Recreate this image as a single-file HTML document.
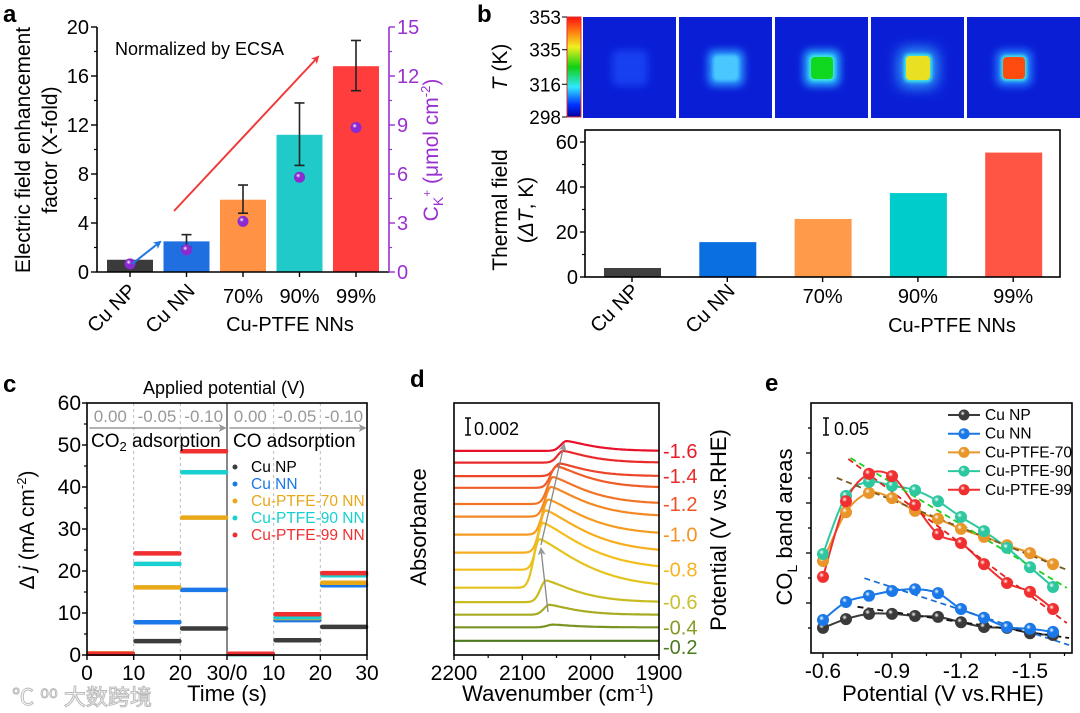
<!DOCTYPE html>
<html><head><meta charset="utf-8">
<style>
html,body{margin:0;padding:0;background:#fff;}
svg{display:block;font-family:"Liberation Sans","Noto Sans CJK SC",sans-serif;}
</style></head>
<body>
<svg id="fig" width="1080" height="713" viewBox="0 0 1080 713" xmlns="http://www.w3.org/2000/svg">
<defs>
<linearGradient id="cbar" x1="0" y1="1" x2="0" y2="0">
<stop offset="0" stop-color="#0000a0"/><stop offset="0.12" stop-color="#0030ff"/><stop offset="0.3" stop-color="#30e8ff"/>
<stop offset="0.5" stop-color="#10d010"/><stop offset="0.7" stop-color="#f0f020"/><stop offset="0.85" stop-color="#ff8010"/><stop offset="1" stop-color="#ff1010"/>
</linearGradient>
<filter id="blur4" x="-1" y="-1" width="3" height="3"><feGaussianBlur stdDeviation="4"/></filter>
<filter id="blur7" x="-1" y="-1" width="3" height="3"><feGaussianBlur stdDeviation="7"/></filter>
<filter id="blur2"><feGaussianBlur stdDeviation="1.5"/></filter>
<marker id="ahRed" markerWidth="8" markerHeight="8" refX="6" refY="4" orient="auto" markerUnits="userSpaceOnUse"><path d="M0,0 L8,4 L0,8 L2,4 Z" fill="#f03a3a"/></marker>
<marker id="ahBlue" markerWidth="8" markerHeight="8" refX="6" refY="4" orient="auto" markerUnits="userSpaceOnUse"><path d="M0,0 L8,4 L0,8 L2,4 Z" fill="#1f78e0"/></marker>
<marker id="ahGray" markerWidth="8" markerHeight="8" refX="6" refY="4" orient="auto" markerUnits="userSpaceOnUse"><path d="M0,0 L8,4 L0,8 L2,4 Z" fill="#999"/></marker>
</defs>
</svg>
<script>
// ---------- DATA ----------
// panel a
const catsA = ['Cu NP','Cu NN','70%','90%','99%'];
const enhA = [1.0, 2.5, 5.9, 11.2, 16.8];
const enhErrA = [0, 0.5, 1.15, 2.55, 2.05];
const ckA = [0.5, 1.35, 3.1, 5.8, 8.85];
const ckErrA = [0.15, 0.2, 0.2, 0.25, 0.3];
const ticksA = [0, 4, 8, 12, 16, 20];
const ticksA2 = [0, 3, 6, 9, 12, 15];
// panel b
const catsB = ['Cu NP','Cu NN','70%','90%','99%'];
const dTB = [4.0, 15.5, 25.8, 37.3, 55.3];
const ticksB = [0, 20, 40, 60];
const cbarTicks = [353, 335, 316, 298];
// panel c
const seriesC = ['Cu NP','Cu NN','Cu-PTFE-70 NN','Cu-PTFE-90 NN','Cu-PTFE-99 NN'];
const co2Lv = [[0.3,3.3,6.3],[0.3,7.8,15.5],[0.4,16.1,32.7],[0.3,21.7,43.5],[0.3,24.2,48.5]];
const coLv  = [[0.2,3.5,6.7],[0.2,8.3,16.6],[0.2,8.8,17.2],[0.2,9.0,19.0],[0.3,9.7,19.5]];
const ticksC = [0,10,20,30,40,50,60];
const potLabelsC = ['0.00','-0.05','-0.10'];
// panel d
const potD = [-1.6,-1.5,-1.4,-1.3,-1.2,-1.1,-1.0,-0.9,-0.8,-0.7,-0.6,-0.5,-0.4,-0.2];
const offsetD = [21.9,20.6,19.1,17.8,16.0,14.6,12.6,10.6,8.7,6.7,5.1,3.7,2.3,0.8]; // x0.001 abs
const peakD = [1.1,1.3,1.4,2.4,3.0,3.3,3.9,4.7,5.2,5.4,2.4,1.1,0.3,0.0];       // x0.001 abs
const peakPosD = [2035,2040,2045,2050,2055,2058,2062,2066,2070,2075,2065,2060,2055,2055];
const ticksD = [2200,2100,2000,1900];
// panel e
const potE = [-0.6,-0.7,-0.8,-0.9,-1.0,-1.1,-1.2,-1.3,-1.4,-1.5,-1.6];
const seriesE = ['Cu NP','Cu NN','Cu-PTFE-70','Cu-PTFE-90','Cu-PTFE-99'];
const areaNP = [0.057,0.077,0.089,0.089,0.084,0.082,0.070,0.059,0.057,0.045,0.041];
const areaNN = [0.075,0.116,0.130,0.141,0.145,0.136,0.100,0.080,0.059,0.055,0.048];
const area70 = [0.209,0.320,0.364,0.352,0.323,0.305,0.282,0.264,0.245,0.227,0.202];
const area90 = [0.225,0.357,0.389,0.380,0.370,0.345,0.309,0.277,0.239,0.195,0.150];
const area99 = [0.173,0.345,0.407,0.402,0.336,0.270,0.250,0.202,0.159,0.139,0.100];
const fitX0 = [-0.75,-0.78,-0.66,-0.72,-0.71];
const fitX1 = [-1.67,-1.67,-1.66,-1.66,-1.66];
const fitY0 = [0.105,0.170,0.398,0.443,0.441];
const fitY1 = [0.034,0.018,0.189,0.148,0.068];
const ticksEX = [-0.6,-0.9,-1.2,-1.5];

// ---------- HELPERS ----------
const NS='http://www.w3.org/2000/svg';
const svg=document.getElementById('fig');
const defs=svg.querySelector('defs');
function el(tag,attrs,name,parent){
  const e=document.createElementNS(NS,tag);
  for(const k in attrs) e.setAttribute(k,attrs[k]);
  
  
  (parent||svg).appendChild(e);
  return e;
}
function txt(x,y,s,attrs,name,parent){
  const t=el('text',Object.assign({x:x,y:y},attrs||{}),name,parent);
  t.textContent=s; return t;
}
function line(x1,y1,x2,y2,stroke,w,name,extra){
  return el('line',Object.assign({x1,y1,x2,y2,stroke,'stroke-width':w},extra||{}),name);
}
function grad(id,color){
  const g=document.createElementNS(NS,'radialGradient');
  g.setAttribute('id',id);g.setAttribute('cx','0.38');g.setAttribute('cy','0.35');g.setAttribute('r','0.7');
  g.innerHTML='<stop offset="0" stop-color="#ffffff"/><stop offset="0.3" stop-color="'+color+'"/><stop offset="1" stop-color="'+color+'"/>';
  defs.appendChild(g);
}
function smooth(pts){
  let d='M'+pts[0][0]+','+pts[0][1];
  for(let i=0;i<pts.length-1;i++){
    const p0=pts[Math.max(0,i-1)],p1=pts[i],p2=pts[i+1],p3=pts[Math.min(pts.length-1,i+2)];
    const c1=[p1[0]+(p2[0]-p0[0])/6,p1[1]+(p2[1]-p0[1])/6];
    const c2=[p2[0]-(p3[0]-p1[0])/6,p2[1]-(p3[1]-p1[1])/6];
    d+=' C'+c1[0].toFixed(1)+','+c1[1].toFixed(1)+' '+c2[0].toFixed(1)+','+c2[1].toFixed(1)+' '+p2[0].toFixed(1)+','+p2[1].toFixed(1);
  }
  return d;
}
const FT=20, FA=21;

// ================= PANEL A =================
(function(){
  const L=97,R=389,T=27,B=272;
  const yA=v=>B-v/20*(B-T), yA2=v=>B-v/15*(B-T), xA=i=>130+i*56.5;
  const colors=['#3b3b3b','#1f6fe0','#ff9244','#1fcac8','#ff3d3d'];
  txt(3,22,'a',{'font-size':24,'font-weight':'bold'},'panel-a-label');
  catsA.forEach((c,i)=>{
    const h=B-yA(enhA[i]);
    el('rect',{x:xA(i)-23,y:yA(enhA[i]),width:46,height:h,fill:colors[i]},'bar-a-'+i);
    if(enhErrA[i]>0){
      const t=yA(enhA[i]+enhErrA[i]+0.05),b=yA(enhA[i]-enhErrA[i]+0.05);
      line(xA(i),t,xA(i),b,'#222',1.6,'errorbar-a-'+i);
      line(xA(i)-5,t,xA(i)+5,t,'#222',1.6,'errorcap-a-top-'+i);
      line(xA(i)-5,b,xA(i)+5,b,'#222',1.6,'errorcap-a-bot-'+i);
    }
  });
  grad('gPurple','#8a2ad0');
  catsA.forEach((c,i)=>{
    const y=yA2(ckA[i]);
    line(xA(i),yA2(ckA[i]+ckErrA[i]),xA(i),yA2(ckA[i]-ckErrA[i]),'#7a20c0',1.5,'ck-error-'+i);
    el('circle',{cx:xA(i),cy:y,r:5.5,fill:'url(#gPurple)'},'ck-point-'+i);
  });
  line(L,T,L,B,'#000',1.6,'y-axis-a-left');
  line(L,B,R,B,'#000',1.6,'x-axis-a');
  line(R,T,R,B,'#9a30d0',1.6,'y-axis-a-right');
  ticksA.forEach(v=>{
    line(L-6,yA(v),L,yA(v),'#000',1.4,'ytick-a');
    txt(L-8,yA(v)+7,String(v),{'font-size':FT,'text-anchor':'end'},'ytick-label-a');
    if(v<20) line(L-3,yA(v+2),L,yA(v+2),'#000',1.2,'yminor-a');
  });
  ticksA2.forEach(v=>{
    line(R,yA2(v),R+6,yA2(v),'#9a30d0',1.4,'ytick-a-right');
    txt(R+8,yA2(v)+7,String(v),{'font-size':FT,fill:'#9a30d0'},'ytick-label-a-right');
    if(v<15) line(R,yA2(v+1.5),R+3,yA2(v+1.5),'#9a30d0',1.2,'yminor-a-right');
  });
  catsA.forEach((c,i)=>line(xA(i),B,xA(i),B+5,'#000',1.4,'xtick-a'));
  txt(137,292,'Cu NP',{'font-size':FT,'text-anchor':'end',transform:'rotate(-45 137 292)'},'xlabel-a-cu-np');
  txt(196,292,'Cu NN',{'font-size':FT,'text-anchor':'end',transform:'rotate(-45 196 292)'},'xlabel-a-cu-nn');
  [2,3,4].forEach(i=>txt(xA(i),303,catsA[i],{'font-size':FT,'text-anchor':'middle'},'xlabel-a-'+catsA[i]));
  txt(290,331,'Cu-PTFE NNs',{'font-size':FT,'text-anchor':'middle'},'x-group-label-a');
  txt(115,55,'Normalized by ECSA',{'font-size':18},'annotation-ecsa');
  line(174,211,318,57,'#f03a3a',2,'trend-arrow-red',{'marker-end':'url(#ahRed)'});
  line(132,264,160,242,'#1f78e0',2,'trend-arrow-blue',{'marker-end':'url(#ahBlue)'});
  txt(30,150,'Electric field enhancement',{'font-size':FA,'text-anchor':'middle',transform:'rotate(-90 30 150)'},'y-axis-title-a-1');
  txt(57,150,'factor (X-fold)',{'font-size':FA,'text-anchor':'middle',transform:'rotate(-90 57 150)'},'y-axis-title-a-2');
  const t=el('text',{x:438,y:150,'font-size':FA,fill:'#9a30d0','text-anchor':'middle',transform:'rotate(-90 438 150)'},'y-axis-title-a-right');
  t.innerHTML='C<tspan font-size="14" dy="5">K</tspan><tspan font-size="12" dy="-12">+</tspan><tspan dy="7"> (μmol cm</tspan><tspan font-size="13" dy="-8">-2</tspan><tspan dy="8">)</tspan>';
})();

// ================= PANEL B =================
(function(){
  txt(477,22,'b',{'font-size':24,'font-weight':'bold'},'panel-b-label');
  el('rect',{x:567,y:17,width:14,height:100,fill:'url(#cbar)',stroke:'#e03030','stroke-width':1},'colorbar');
  const cy=v=>117-(v-298)/(353-298)*100;
  cbarTicks.forEach(v=>{
    line(562,cy(v),567,cy(v),'#000',1,'colorbar-tick');
    txt(561,cy(v)+7,String(v),{'font-size':19,'text-anchor':'end'},'colorbar-label');
  });
  const tl=el('text',{x:507,y:67,'font-size':FA,'text-anchor':'middle',transform:'rotate(-90 507 67)'},'colorbar-title');
  tl.innerHTML='<tspan font-style="italic">T</tspan> (K)';
  const px=[583,679,775,871,967];
  const core=[null,'#48c8ff','#10d820','#e8e020','#ff4a10'];
  const glow=['#1440f0','#2a98ff','#28b0ff','#30a8ff','#2080ff'];
  const sz=[26,26,26,28,26];
  px.forEach((x,i)=>{
    el('rect',{x:x,y:17,width:i<4?93:113,height:101,fill:'#0a1ed6'},'thermal-image-'+i);
    const cx=x+47,cyy=68;
    el('rect',{x:cx-sz[i]/2-5,y:cyy-sz[i]/2-5,width:sz[i]+10,height:sz[i]+10,rx:7,fill:glow[i],filter:i===3?'url(#blur7)':'url(#blur4)'},'thermal-glow-'+i);
    if(core[i]){
      el('rect',{x:cx-sz[i]/2,y:cyy-sz[i]/2,width:sz[i],height:sz[i],rx:5,fill:i>=2?'#40e8e0':core[i],filter:'url(#blur2)'},'thermal-rim-'+i);
      el('rect',{x:cx-sz[i]/2+2,y:cyy-sz[i]/2+2,width:sz[i]-4,height:sz[i]-4,rx:4,fill:core[i]},'thermal-core-'+i);
    }
  });
  const L=585,R=1060,T=130,B=277;
  const yB=v=>B-v/60*135, xB=i=>632+i*95.3;
  const colors=['#404040','#0a6fe0','#ff9a4a','#00cccc','#ff5544'];
  catsB.forEach((c,i)=>el('rect',{x:xB(i)-28,y:yB(dTB[i]),width:57,height:B-yB(dTB[i]),fill:colors[i]},'bar-b-'+i));
  el('rect',{x:L,y:T,width:R-L,height:B-T,fill:'none',stroke:'#000','stroke-width':1.6},'plot-frame-b');
  ticksB.forEach(v=>{
    line(L-5,yB(v),L,yB(v),'#000',1.4,'ytick-b');
    txt(L-7,yB(v)+7,String(v),{'font-size':FT,'text-anchor':'end'},'ytick-label-b');
    if(v<60) line(L-3,yB(v+10),L,yB(v+10),'#000',1.2,'yminor-b');
  });
  catsB.forEach((c,i)=>line(xB(i),B,xB(i),B+5,'#000',1.4,'xtick-b'));
  txt(640,292,'Cu NP',{'font-size':FT,'text-anchor':'end',transform:'rotate(-45 640 292)'},'xlabel-b-cu-np');
  txt(736,292,'Cu NN',{'font-size':FT,'text-anchor':'end',transform:'rotate(-45 736 292)'},'xlabel-b-cu-nn');
  [2,3,4].forEach(i=>txt(xB(i),303,catsB[i],{'font-size':FT,'text-anchor':'middle'},'xlabel-b-'+catsB[i]));
  txt(952,332,'Cu-PTFE NNs',{'font-size':FT,'text-anchor':'middle'},'x-group-label-b');
  txt(507,210,'Thermal field',{'font-size':FA,'text-anchor':'middle',transform:'rotate(-90 507 210)'},'y-axis-title-b-1');
  const t2=el('text',{x:533,y:210,'font-size':FA,'text-anchor':'middle',transform:'rotate(-90 533 210)'},'y-axis-title-b-2');
  t2.innerHTML='(<tspan font-style="italic">ΔT</tspan>, K)';
})();

// ================= PANEL C =================
(function(){
  const L=87,R=367,T=403,B=655;
  const yC=v=>B-v/60*(B-T), xC=(t,h)=>L+(h*30+t)*(R-L)/60;
  const colors=['#3c3c3c','#1a78e8','#e8a818','#18d0d0','#f03030'];
  txt(3,392,'c',{'font-size':24,'font-weight':'bold'},'panel-c-label');
  [10,20,40,50].forEach(t=>line(xC(t,0),T,xC(t,0),B,'#bbb',1,'divider-dashed',{'stroke-dasharray':'3 3'}));
  line(xC(30,0),T,xC(30,0),B,'#888',2,'divider-halves');
  [co2Lv,coLv].forEach((lv,h)=>{
    seriesC.forEach((s,k)=>{
      lv[k].forEach((v,j)=>{
        el('line',{x1:xC(j*10+0.4,h),y1:yC(v),x2:xC(j*10+9.8,h),y2:yC(v),stroke:colors[k],'stroke-width':4.5,'stroke-linecap':'round'},'step-'+(h?'co':'co2')+'-'+k+'-'+j);
      });
    });
  });
  el('rect',{x:L,y:T,width:R-L,height:B-T,fill:'none',stroke:'#000','stroke-width':1.6},'plot-frame-c');
  ticksC.forEach(v=>{
    line(L-5,yC(v),L,yC(v),'#000',1.4,'ytick-c');
    txt(L-6,yC(v)+7,String(v),{'font-size':FT+1,'text-anchor':'end'},'ytick-label-c');
    if(v<60) line(L-3,yC(v+5),L,yC(v+5),'#000',1.2,'yminor-c');
  });
  const xl=['0','10','20','30/0','10','20','30'];
  xl.forEach((s,i)=>{
    const x=L+i*(R-L)/6;
    line(x,B,x,B+5,'#000',1.4,'xtick-c');
    txt(x,B+25,s,{'font-size':FT+1,'text-anchor':'middle'},'xtick-label-c');
  });
  txt(227,701,'Time (s)',{'font-size':22,'text-anchor':'middle'},'x-axis-title-c');
  txt(224,394,'Applied potential (V)',{'font-size':18,'text-anchor':'middle'},'top-title-c');
  [0,1].forEach(h=>{
    potLabelsC.forEach((p,j)=>txt(xC(j*10+5,h),422,p,{'font-size':17,fill:'#999','text-anchor':'middle'},'potential-step-label'));
    line(xC(0.5,h),428,xC(29.5,h),428,'#999',1.5,'potential-arrow-'+h,{'marker-end':'url(#ahGray)'});
  });
  const co2=el('text',{x:91,y:447,'font-size':19},'co2-adsorption-label');
  co2.innerHTML='CO<tspan font-size="13" dy="4">2</tspan><tspan dy="-4"> adsorption</tspan>';
  txt(233,447,'CO adsorption',{'font-size':19},'co-adsorption-label');
  seriesC.forEach((s,k)=>{
    const y=472+k*17;
    el('circle',{cx:235,cy:y-5,r:2.5,fill:colors[k]},'legend-c-marker-'+k);
    txt(251,y,s,{'font-size':15.5,fill:k===0?'#000':colors[k]},'legend-c-entry-'+k);
  });
  const yt=el('text',{x:34,y:530,'font-size':FA,'text-anchor':'middle',transform:'rotate(-90 34 530)'},'y-axis-title-c');
  yt.innerHTML='Δ <tspan font-style="italic">j</tspan> (mA cm<tspan font-size="13" dy="-8">-2</tspan><tspan dy="8">)</tspan>';
})();

// ================= PANEL D =================
(function(){
  const L=454,R=659,T=403,B=655;
  const xD=w=>L+(2200-w)/300*(R-L), yD=a=>648-a*9; // a in 0.001 abs
  const colors=['#e8102a','#ea2a2a','#ec4428','#ef5c28','#f27426','#f48824','#f59c20','#f6ae1e','#f4be1c','#e4c41c','#c8bc20','#a8ac22','#7a9424','#4a7a1e'];
  txt(410,387,'d',{'font-size':24,'font-weight':'bold'},'panel-d-label');
  potD.forEach((p,i)=>{
    let d='';
    for(let w=2200;w>=1900;w-=2){
      const dw=w-peakPosD[i];
      const s=dw>0?Math.exp(-Math.pow(dw/12,2)):Math.exp(-Math.pow(-dw/(40+peakD[i]*8),1.3));
      const a=offsetD[i]+peakD[i]*s;
      d+=(w===2200?'M':'L')+xD(w).toFixed(1)+','+yD(a).toFixed(1);
    }
    el('path',{d:d,fill:'none',stroke:colors[i],'stroke-width':2.2},'spectrum-'+p);
  });
  line(548,612,541,549,'#888',1.3,'shift-arrow-1',{'marker-end':'url(#ahGray)'});
  line(541,545,564,445,'#888',1.3,'shift-arrow-2',{'marker-end':'url(#ahGray)'});
  el('rect',{x:L,y:T,width:R-L,height:B-T,fill:'none',stroke:'#000','stroke-width':1.6},'plot-frame-d');
  ticksD.forEach(w=>{
    line(xD(w),B,xD(w),B+5,'#000',1.4,'xtick-d');
    txt(xD(w),B+25,String(w),{'font-size':FT+1,'text-anchor':'middle'},'xtick-label-d');
    if(w>1900) line(xD(w-50),B,xD(w-50),B+3,'#000',1.2,'xminor-d');
  });
  line(468,418,468,435,'#000',1.6,'scale-bar-d');
  line(465,418,471,418,'#000',1.4,'scale-bar-d-top');
  line(465,435,471,435,'#000',1.4,'scale-bar-d-bot');
  txt(474,435,'0.002',{'font-size':18},'scale-bar-d-label');
  const lbl=[[-1.6,0,'#e81a2a'],[-1.4,2,'#ea2a28'],[-1.2,4,'#f05028'],[-1.0,6,'#f49424'],[-0.8,8,'#f6b420'],[-0.6,10,'#c8c030'],[-0.4,12,'#889a24'],[-0.2,13,'#4a7a1e']];
  lbl.forEach(([p,i,c])=>{
    const y=i===13?yD(offsetD[i])+13:yD(offsetD[i])+7;
    txt(663,y,p.toFixed(1),{'font-size':FT,fill:c},'potential-label-d');
  });
  txt(426,527,'Absorbance',{'font-size':22,'text-anchor':'middle',transform:'rotate(-90 426 527)'},'y-axis-title-d');
  txt(726,530,'Potential (V vs.RHE)',{'font-size':22,'text-anchor':'middle',transform:'rotate(-90 726 530)'},'y-axis-title-d-right');
  const xt=el('text',{x:558,y:701,'font-size':22,'text-anchor':'middle'},'x-axis-title-d');
  xt.innerHTML='Wavenumber (cm<tspan font-size="13" dy="-8">-1</tspan><tspan dy="8">)</tspan>';
})();

// ================= PANEL E =================
(function(){
  const L=811,R=1072,T=403,B=653;
  const xE=v=>823+(-0.6-v)/0.3*69, yE=a=>B-a/0.05*22;
  const colors=['#3a3a3a','#1a78e8','#e8962a','#2ec8a0','#f03030'];
  const fitC=['#111','#1a70d0','#7a5a20','#20d020','#e02020'];
  const data=[areaNP,areaNN,area70,area90,area99];
  txt(765,391,'e',{'font-size':24,'font-weight':'bold'},'panel-e-label');
  colors.forEach((c,k)=>grad('gE'+k,c));
  data.forEach((arr,k)=>{
    const pts=potE.map((v,i)=>[xE(v),yE(arr[i])]);
    el('path',{d:smooth(pts),fill:'none',stroke:colors[k],'stroke-width':2},'curve-e-'+k);
  });
  data.forEach((arr,k)=>{
    el('line',{x1:xE(fitX0[k]),y1:yE(fitY0[k]),x2:xE(fitX1[k]),y2:yE(fitY1[k]),stroke:fitC[k],'stroke-width':1.8,'stroke-dasharray':'6 4'},'fit-line-e-'+k);
  });
  data.forEach((arr,k)=>{
    potE.forEach((v,i)=>el('circle',{cx:xE(v),cy:yE(arr[i]),r:6,fill:'url(#gE'+k+')'},'point-e-'+k+'-'+i));
  });
  el('rect',{x:L,y:T,width:R-L,height:B-T,fill:'none',stroke:'#000','stroke-width':1.6},'plot-frame-e');
  for(let y=B-25;y>T;y-=25){
    const major=((B-y)/25)%2===0;
    line(L-(major?5:3),y,L,y,'#000',1.3,'ytick-e');
  }
  ticksEX.forEach(v=>{
    line(xE(v),B,xE(v),B+5,'#000',1.4,'xtick-e');
    txt(xE(v),B+25,v.toFixed(1),{'font-size':FT+1,'text-anchor':'middle'},'xtick-label-e');
    line(xE(v-0.15),B,xE(v-0.15),B+3,'#000',1.2,'xminor-e');
  });
  line(826,418,826,435,'#000',1.6,'scale-bar-e');
  line(823,418,829,418,'#000',1.4,'scale-bar-e-top');
  line(823,435,829,435,'#000',1.4,'scale-bar-e-bot');
  txt(834,435,'0.05',{'font-size':18},'scale-bar-e-label');
  seriesE.forEach((s,k)=>{
    const y=415+k*18.7;
    line(948,y,980,y,colors[k],2,'legend-e-line-'+k);
    el('circle',{cx:964,cy:y,r:5.5,fill:'url(#gE'+k+')'},'legend-e-marker-'+k);
    txt(985,y+5,s,{'font-size':15.5},'legend-e-entry-'+k);
  });
  const yt=el('text',{x:792,y:527,'font-size':22,'text-anchor':'middle',transform:'rotate(-90 792 527)'},'y-axis-title-e');
  yt.innerHTML='CO<tspan font-size="14" dy="5">L</tspan><tspan dy="-5"> band areas</tspan>';
  txt(943,701,'Potential (V vs.RHE)',{'font-size':22,'text-anchor':'middle'},'x-axis-title-e');
})();

// watermark
txt(12,705,'℃ ⁰⁰ 大数跨境',{'font-size':22,fill:'#fff',stroke:'#bbb','stroke-width':1},'watermark');
</script>
</body></html>
